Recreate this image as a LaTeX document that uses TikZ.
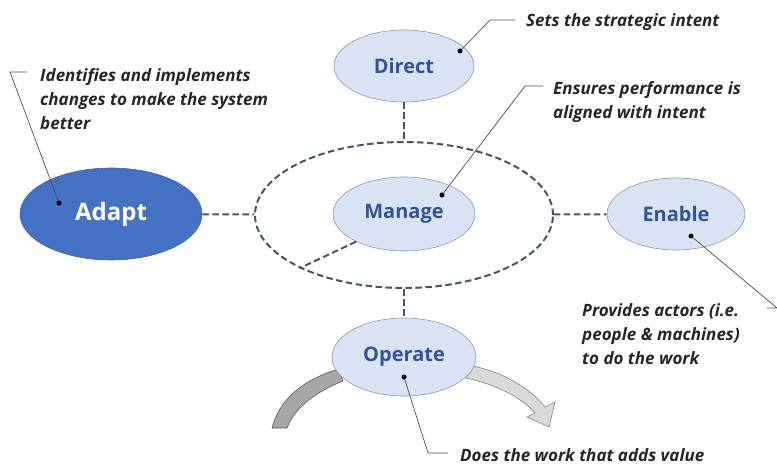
\documentclass[tikz,border=0pt]{standalone}
\usepackage{fontspec}
\setmainfont{Open Sans}
\usetikzlibrary{shapes,positioning}

\definecolor{PaleBlue}{HTML}{DAE3F3}
\definecolor{AdaptBlue}{HTML}{4472C4}
\definecolor{LabelBlue}{HTML}{2F5597}
\definecolor{RimGray}{HTML}{8497B0}
\definecolor{DashSlate}{HTML}{44546A}
\definecolor{ArrowDark}{HTML}{A6A6A6}
\definecolor{ArrowLight}{HTML}{D9D9D9}

\begin{document}
\begin{tikzpicture}[x=1pt,y=-1pt]
		\tikzstyle{Role}	= [ellipse, draw=RimGray, line width=0.6pt, fill=PaleBlue, text=LabelBlue, font=\bfseries\fontsize{20}{24}\selectfont, inner sep=0pt]
		\tikzstyle{Loop}	= [ellipse, draw=DashSlate, line width=2pt, dash pattern=on 6.5pt off 3.5pt, minimum width=298pt, minimum height=146pt, inner sep=0pt]
		\tikzstyle{Link}	= [draw=DashSlate, line width=2pt, dash pattern=on 6.5pt off 3.5pt]
		\tikzstyle{Note}	= [font=\bfseries\itshape\fontsize{17}{24}\selectfont, align=left, inner sep=0pt, text=black!85]
		\tikzstyle{Leader}	= [draw=black!70, line width=0.7pt]
		\tikzstyle{Pin}		= [fill=black]
		
		\useasboundingbox (0,0) rectangle (777,466);
		
		\filldraw [fill=ArrowDark, draw=black!65, line width=0.6pt] (338,369) .. controls (300,381) and (279,401) .. (272,428) -- (287,428) .. controls (295,407) and (316,392) .. (343,381) -- cycle;
		\filldraw [fill=ArrowLight, draw=black!50, line width=0.6pt] (468,365) .. controls (502,371) and (530,388) .. (545,407) -- (555,402) -- (549,427) -- (527,417) -- (535,413) .. controls (522,398) and (498,385) .. (466,378) -- cycle;
		
		\node (loop) at (404,215) [Loop] {};
		\node (direct) at (404,66) [Role, minimum width=140pt, minimum height=72pt] {Direct};
		\node (manage) at (404,214) [Role, minimum width=142pt, minimum height=74pt] {Manage};
		\node (enable) at (676,214) [Role, minimum width=138pt, minimum height=72pt] {Enable};
		\node (operate) at (404,357) [Role, minimum width=144pt, minimum height=78pt] {Operate};
		\node (adapt) at (111,214) [Role, fill=AdaptBlue, draw=AdaptBlue!85!black, text=white, font=\bfseries\fontsize{24}{28}\selectfont, minimum width=182pt, minimum height=92pt] {Adapt};
		
		\draw [-] (direct) to (loop) [Link];
		\draw [-] (adapt) to (loop) [Link];
		\draw [-] (loop) to (enable) [Link];
		\draw [-] (loop) to (operate) [Link];
		\draw [-] (manage.210) to (loop.207) [Link];
		
		\node (directnote) at (526,26) [Note, anchor=base west] {Sets the strategic intent};
		\node (managenote) at (553,81) [Note, anchor=north west] {Ensures performance is\\aligned with intent};
		\node (adaptnote) at (40,68) [Note, anchor=north west] {Identifies and implements\\changes to make the system\\better};
		\node (enablenote) at (582,303) [Note, anchor=north west] {Provides actors (i.e.\\people \& machines)\\to do the work};
		\node (operatenote) at (460,461) [Note, anchor=base west] {Does the work that adds value};
		
		\coordinate (directpin) at (460,51);
		\coordinate (directknee) at (490,20);
		\coordinate (directend) at (515,20);
		\coordinate (managepin) at (442,195);
		\coordinate (manageknee) at (525,86);
		\coordinate (manageend) at (543,86);
		\coordinate (adaptpin) at (59,203);
		\coordinate (adaptknee) at (10,72);
		\coordinate (adaptend) at (27,72);
		\coordinate (enablepin) at (691,236);
		\coordinate (enableknee) at (777,308);
		\coordinate (enableend) at (767,308);
		\coordinate (operatepin) at (404,377);
		\coordinate (operateknee) at (428,453);
		\coordinate (operateend) at (448,453);
		
		\draw (directpin) -- (directknee) -- (directend) [Leader];
		\draw (managepin) -- (manageknee) -- (manageend) [Leader];
		\draw (adaptpin) -- (adaptknee) -- (adaptend) [Leader];
		\draw (enablepin) -- (enableknee) -- (enableend) [Leader];
		\draw (operatepin) -- (operateknee) -- (operateend) [Leader];
		
		\fill [Pin] (directpin) circle (2.5pt);
		\fill [Pin] (managepin) circle (2.5pt);
		\fill [Pin] (adaptpin) circle (2.5pt);
		\fill [Pin] (enablepin) circle (2.5pt);
		\fill [Pin] (operatepin) circle (2.5pt);
	\end{tikzpicture}
\end{document}
